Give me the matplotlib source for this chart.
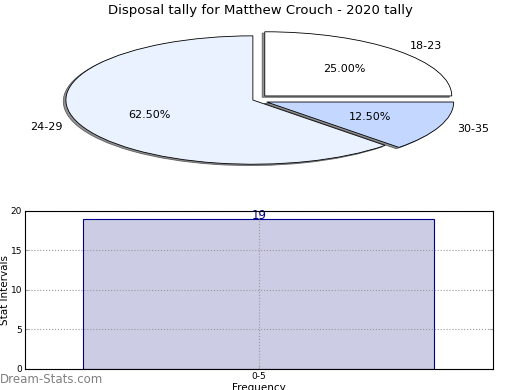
import matplotlib
matplotlib.use("Agg")
import matplotlib.pyplot as plt

# Data
pie_labels = ["18-23", "24-29", "30-35"]
pie_values = [25.0, 62.5, 12.5]
pie_colors = ["#FFFFFF", "#EAF1FF", "#C4D7FF"]
pie_explode = [0.09, 0.0, 0.08]

bar_categories = ["0-5"]
bar_values = [19]

fig = plt.figure(figsize=(5.2, 3.9), dpi=100)

# Pie
axp = fig.add_axes([0.0548, 0.546, 0.863, 0.395])
wedges, texts, autotexts = axp.pie(
    pie_values, labels=pie_labels, colors=pie_colors, explode=pie_explode,
    startangle=0, counterclock=True,
    shadow=dict(ox=-0.01, oy=-0.015, facecolor="#777777", alpha=0.8),
    autopct="%1.2f%%",
    wedgeprops=dict(edgecolor="black", linewidth=0.6),
    textprops=dict(fontsize=8))
axp.set_aspect("auto")
axp.set_xlim(-1.2, 1.2)
axp.set_ylim(-1.2, 1.2)
axp.axis("off")
fig.text(0.5, 0.973, "Disposal tally for Matthew Crouch - 2020 tally",
         ha="center", va="center", fontsize=9.5)

# Bar
axb = fig.add_axes([0.048, 0.054, 0.900, 0.405])
x = list(range(len(bar_categories)))
bars = axb.bar(x, bar_values, width=0.75, color="#CCCCE5", edgecolor="#00008B",
               linewidth=0.8, zorder=2)
for xi, v in zip(x, bar_values):
    axb.text(xi, v + 0.45, str(v), ha="center", va="center", fontsize=8.5,
             color="#00008B", zorder=3)
axb.set_xlim(-0.5, 0.5)
axb.set_ylim(0, 20)
axb.set_yticks([0, 5, 10, 15, 20])
axb.set_xticks(x)
axb.set_xticklabels(bar_categories)
axb.tick_params(axis="both", labelsize=6.5, direction="in", length=3, pad=2,
                top=True, right=True, color="#AAAAAA")
axb.grid(True, linestyle=":", color="#999999", linewidth=0.8, zorder=2.2)
axb.set_axisbelow(False)
axb.set_ylabel("Stat Intervals", fontsize=7.5)
axb.yaxis.set_label_coords(-0.031, 0.5)
axb.set_xlabel("Frequency", fontsize=7.5, labelpad=2)
for s in axb.spines.values():
    s.set_linewidth(0.8)
    s.set_zorder(4)

fig.text(0.0, 0.026, "Dream-Stats.com", fontsize=8.5,
         color="#808080", ha="left", va="center")

fig.savefig("out.png", dpi=100)
